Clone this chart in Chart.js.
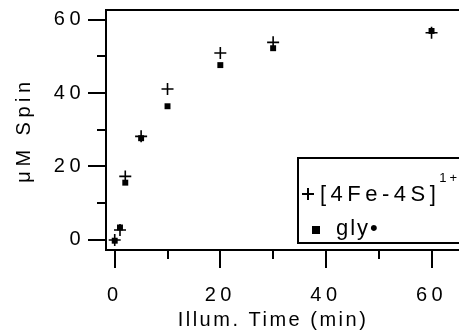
<!DOCTYPE html>
<html>
<head>
<meta charset="utf-8">
<script src="https://cdn.jsdelivr.net/npm/chart.js@4/dist/chart.umd.min.js"></script>
<style>
  html, body { margin: 0; padding: 0; background: #fff; }
  #wrap { width: 459px; height: 333px; }
</style>
</head>
<body>
<div id="wrap"><canvas id="c" width="459" height="333"></canvas></div>
<script>
// ---- data ----
const times = [0, 1, 2, 5, 10, 20, 30, 60];
const feSpin = [0, 2.7, 17.3, 28.2, 41.1, 50.9, 53.8, 56.4];
const glySpin = [-0.2, 3.4, 15.6, 27.7, 36.4, 47.6, 52.2, 56.9];
const seriesNames = ['[4Fe-4S]', 'gly\u2022'];
const feSup = '1+';
const xTickValues = [0, 10, 20, 30, 40, 50, 60];
const yTickValues = [0, 10, 20, 30, 40, 50, 60];
const xTitle = 'Illum. Time (min)';
const yTitle = '\u03bcM Spin';

const FONT = '"Liberation Sans", Arial, Helvetica, sans-serif';

const toPts = (xs, ys) => xs.map((x, i) => ({ x: x, y: ys[i] }));

const frame = {
  id: 'frame',
  beforeDraw(chart) {
    chart.ctx.letterSpacing = '4.5px';
  },
  afterDraw(chart) {
    const ctx = chart.ctx;
    const a = chart.chartArea;
    const xs = chart.scales.x, ys = chart.scales.y;
    ctx.save();
    ctx.strokeStyle = '#000';
    ctx.lineWidth = 2;
    // top border
    ctx.beginPath();
    ctx.moveTo(a.left - 1, a.top);
    ctx.lineTo(chart.width + 5, a.top);
    ctx.stroke();
    // ticks
    ctx.beginPath();
    xTickValues.forEach(v => {
      const p = Math.round(xs.getPixelForValue(v));
      const len = (v % 20 === 0) ? 18 : 9;
      ctx.moveTo(p, a.bottom);
      ctx.lineTo(p, a.bottom + len);
    });
    yTickValues.forEach(v => {
      const p = Math.round(ys.getPixelForValue(v));
      const len = (v % 20 === 0) ? 18 : 9;
      ctx.moveTo(a.left, p);
      ctx.lineTo(a.left - len, p);
    });
    ctx.stroke();

    // x title
    ctx.fillStyle = '#000';
    ctx.letterSpacing = '2.5px';
    ctx.font = '20px ' + FONT;
    ctx.textAlign = 'center';
    ctx.textBaseline = 'middle';
    ctx.fillText(xTitle, 273, 320);

    // legend box
    const L = 298, T = 158, B = 243;
    ctx.beginPath();
    ctx.moveTo(chart.width + 5, T);
    ctx.lineTo(L, T);
    ctx.lineTo(L, B);
    ctx.lineTo(chart.width + 5, B);
    ctx.stroke();
    const ds0 = chart.data.datasets[0], ds1 = chart.data.datasets[1];
    Chart.helpers.drawPoint(ctx, { pointStyle: ds0.pointStyle, radius: ds0.pointRadius, borderWidth: 2.6 }, 308, 194);
    ctx.fillStyle = '#000';
    Chart.helpers.drawPoint(ctx, { pointStyle: ds1.pointStyle, radius: ds1.pointRadius + 1.5, borderWidth: 0 }, 316, 230);
    ctx.fillStyle = '#000';
    ctx.textAlign = 'left';
    ctx.letterSpacing = '4.5px';
    ctx.font = '22px ' + FONT;
    ctx.fillText(seriesNames[0], 320, 195);
    const w = ctx.measureText(seriesNames[0]).width;
    ctx.font = '13px ' + FONT;
    ctx.letterSpacing = '3px';
    ctx.fillText(feSup, 320 + w - 1, 178);
    ctx.font = '22px ' + FONT;
    ctx.letterSpacing = '2px';
    ctx.fillText(seriesNames[1], 336, 229);
    ctx.restore();
  }
};

new Chart(document.getElementById('c'), {
  type: 'scatter',
  data: {
    datasets: [
      {
        label: seriesNames[0],
        data: toPts(times, feSpin),
        pointStyle: 'cross',
        pointRadius: 6,
        pointBorderWidth: 1.6,
        borderColor: '#000',
        backgroundColor: '#000'
      },
      {
        label: seriesNames[1],
        data: toPts(times, glySpin),
        pointStyle: 'rect',
        pointRadius: 4.2,
        pointBorderWidth: 0,
        borderColor: '#000',
        backgroundColor: '#000'
      }
    ]
  },
  options: {
    responsive: false,
    animation: false,
    events: [],
    layout: { autoPadding: false, padding: { top: 10, right: 0, left: 0, bottom: 0 } },
    plugins: { legend: { display: false }, tooltip: { enabled: false } },
    scales: {
      x: {
        type: 'linear',
        min: -1.65,
        max: 65.2,
        afterBuildTicks: s => { s.ticks = xTickValues.map(v => ({ value: v })); },
        afterFit: s => { s.height = 83; s.paddingLeft = 0; s.paddingRight = 0; s.paddingTop = 0; s.paddingBottom = 0; },
        grid: { display: false, drawTicks: false },
        border: { display: true, color: '#000', width: 2 },
        ticks: {
          color: '#000',
          padding: 33,
          maxRotation: 0,
          autoSkip: false,
          font: { family: FONT, size: 20 },
          callback: v => (v % 20 === 0 ? String(v) : '')
        }
      },
      y: {
        type: 'linear',
        min: -2.73,
        max: 62.6,
        afterBuildTicks: s => { s.ticks = yTickValues.map(v => ({ value: v })); },
        afterFit: s => { s.width = 106; s.paddingLeft = 0; s.paddingRight = 0; s.paddingTop = 0; s.paddingBottom = 0; },
        grid: { display: false, drawTicks: false },
        border: { display: true, color: '#000', width: 2 },
        title: {
          display: true,
          text: yTitle,
          color: '#000',
          font: { family: FONT, size: 20 },
          padding: { top: 12, bottom: 0 }
        },
        ticks: {
          color: '#000',
          padding: 21,
          autoSkip: false,
          font: { family: FONT, size: 20 },
          callback: v => (v % 20 === 0 ? String(v) : '')
        }
      }
    }
  },
  plugins: [frame]
});
</script>
</body>
</html>
